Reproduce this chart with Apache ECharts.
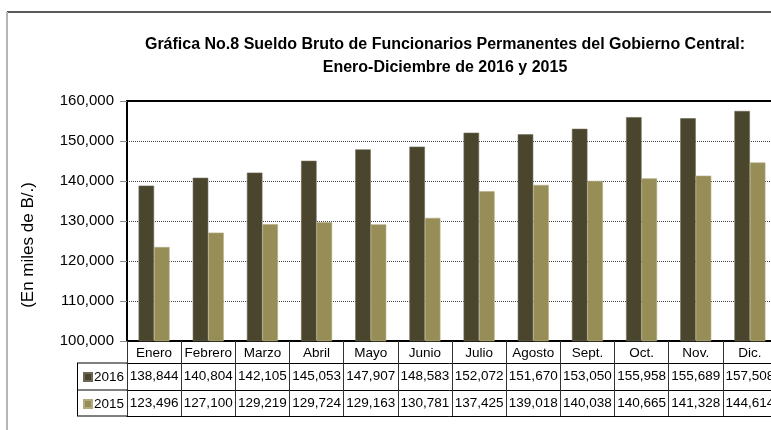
<!DOCTYPE html>
<html>
<head>
<meta charset="utf-8">
<script src="https://cdn.jsdelivr.net/npm/echarts@6/dist/echarts.min.js"></script>
<style>
html,body{margin:0;padding:0;background:#fff;}
#chart{width:771px;height:430px;}
</style>
</head>
<body>
<div id="chart"></div>
<script>
var months = ['Enero','Febrero','Marzo','Abril','Mayo','Junio','Julio','Agosto','Sept.','Oct.','Nov.','Dic.'];
var seriesNames = ['2016','2015'];
var values2016 = [138844,140804,142105,145053,147907,148583,152072,151670,153050,155958,155689,157508];
var values2015 = [123496,127100,129219,129724,129163,130781,137425,139018,140038,140665,141328,144614];
var yTicks = {min:100000, max:160000, step:10000};
var titleText = 'Gráfica No.8 Sueldo Bruto de Funcionarios Permanentes del Gobierno Central:\nEnero-Diciembre de 2016 y 2015';
var yAxisTitle = '(En miles de B/.)';

var FONT = '"Liberation Sans", Arial, sans-serif';
var fmt = function(v){ return Number(v).toLocaleString('en-US'); };
var colors = ['#4A452D','#968D57'];

var chart = echarts.init(document.getElementById('chart'), null, {renderer:'canvas'});
var gridL = 127, gridT = 101, gridW = 650, gridH = 240;

var option = {
  animation:false,
  textStyle:{fontFamily:FONT},
  title:{
    text:titleText,
    left:440, top:28, textAlign:'center',
    textStyle:{fontFamily:FONT, fontSize:16, fontWeight:'bold', color:'#000', lineHeight:23}
  },
  legend:{
    data:seriesNames,
    orient:'vertical',
    left:78, top:365,
    itemWidth:8, itemHeight:8, itemGap:13,
    icon:'rect',
    textStyle:{fontFamily:FONT, fontSize:13.5, color:'#000', padding:[0,0,0,-3]}
  },
  grid:{left:gridL, top:gridT, width:gridW, height:gridH, containLabel:false, outerBoundsMode:'none'},
  xAxis:[
    {type:'category', data:months, position:'bottom',
     axisLine:{lineStyle:{color:'#000', width:2}},
     axisTick:{show:true, interval:0, length:75, lineStyle:{color:'#333', width:1}},
     axisLabel:{interval:0, margin:5, fontFamily:FONT, fontSize:13.5, color:'#000'},
     splitLine:{show:false}},
    {type:'category', data:values2016.map(fmt), position:'bottom', offset:22,
     axisLine:{lineStyle:{color:'#000', width:1}}, axisTick:{show:false},
     axisLabel:{interval:0, margin:6, fontFamily:FONT, fontSize:13.5, color:'#000'}},
    {type:'category', data:values2015.map(fmt), position:'bottom', offset:49,
     axisLine:{lineStyle:{color:'#000', width:1}}, axisTick:{show:false},
     axisLabel:{interval:0, margin:6, fontFamily:FONT, fontSize:13.5, color:'#000'}},
    {type:'category', data:months, position:'bottom', offset:75,
     axisLine:{lineStyle:{color:'#000', width:1}}, axisTick:{show:false},
     axisLabel:{show:false}},
    {type:'category', data:months, position:'top',
     axisLine:{lineStyle:{color:'#000', width:2}}, axisTick:{show:false},
     axisLabel:{show:false}}
  ],
  yAxis:{
    type:'value', min:yTicks.min, max:yTicks.max, interval:yTicks.step,
    axisLine:{show:true, lineStyle:{color:'#000', width:2}},
    axisTick:{show:true, length:7, lineStyle:{color:'#888'}},
    axisLabel:{margin:13, fontFamily:FONT, fontSize:15, color:'#000', formatter:fmt},
    splitLine:{show:true, lineStyle:{color:'#444', width:1, type:[1,1]}}
  },
  series:[
    {name:seriesNames[0], type:'bar', data:values2016, barWidth:15.5, barGap:'0%',
     itemStyle:{color:colors[0], borderColor:'#6d6855', borderWidth:0.6}},
    {name:seriesNames[1], type:'bar', data:values2015, barWidth:15.5, barGap:'0%',
     itemStyle:{color:colors[1], borderColor:'#b3ab80', borderWidth:0.6}}
  ],
  graphic:[
    {type:'line', shape:{x1:7, y1:12, x2:771, y2:12}, style:{stroke:'#222', lineWidth:1.5}, silent:true},
    {type:'line', shape:{x1:7, y1:12, x2:7, y2:430}, style:{stroke:'#b5b5b5', lineWidth:2}, silent:true},
    {type:'line', shape:{x1:77, y1:363, x2:gridL, y2:363}, style:{stroke:'#000', lineWidth:1}, silent:true},
    {type:'line', shape:{x1:77, y1:390, x2:gridL, y2:390}, style:{stroke:'#000', lineWidth:1}, silent:true},
    {type:'line', shape:{x1:77, y1:416, x2:gridL, y2:416}, style:{stroke:'#000', lineWidth:1}, silent:true},
    {type:'line', shape:{x1:77.5, y1:363, x2:77.5, y2:416}, style:{stroke:'#000', lineWidth:1}, silent:true},
    {type:'text', x:28, y:245, rotation:Math.PI/2,
     style:{text:yAxisTitle, fontFamily:FONT, fontSize:17, fill:'#000', textAlign:'center', textVerticalAlign:'middle'}, silent:true}
  ]
};
chart.setOption(option);
</script>
</body>
</html>
